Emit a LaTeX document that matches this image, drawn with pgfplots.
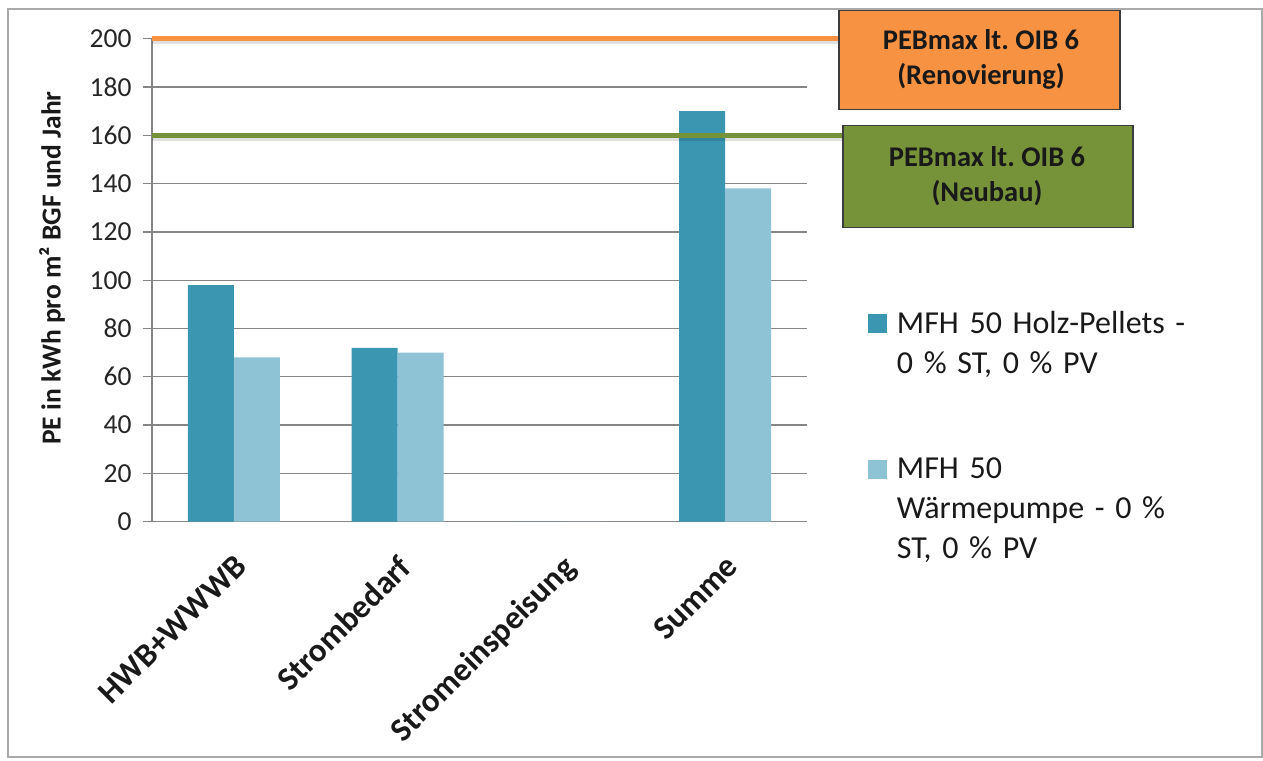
\documentclass[border=0pt]{standalone}
\usepackage{fontspec}
\setmainfont{Carlito}
\usepackage{pgfplots}
\pgfplotsset{compat=1.18}
\frenchspacing

\definecolor{pellets}{RGB}{59,150,178}
\definecolor{wp}{RGB}{142,195,214}
\definecolor{gridc}{RGB}{134,134,134}
\definecolor{renov}{RGB}{247,146,66}
\definecolor{neubau}{RGB}{119,147,58}
\definecolor{framec}{RGB}{170,170,170}
\definecolor{boxline}{RGB}{60,60,60}

\begin{document}
\begin{tikzpicture}[x=1pt,y=1pt]
\useasboundingbox (0,0) rectangle (1263,760);
\draw[framec, line width=1.2pt] (8,3) rectangle (1262,751);

\begin{axis}[
  at={(152pt,238.3pt)}, anchor=south west,
  scale only axis, width=655pt, height=483pt,
  clip=false,
  xmin=-0.5, xmax=3.5, ymin=0, ymax=200,
  axis x line*=bottom, axis y line*=left,
  axis line style={gridc, line width=1.3pt},
  xtick={0,1,2,3},
  xticklabels={HWB+WWWB,Strombedarf,Stromeinspeisung,Summe},
  xtick style={draw=none},
  ytick={0,20,...,200},
  ymajorgrids,
  grid style={gridc, line width=1.3pt},
  ytick style={gridc, line width=1.3pt},
  tick align=outside, major tick length=9pt,
  /pgf/number format/assume math mode=true,
  yticklabel style={font=\fontsize{27.5}{32}\selectfont, text=black!85, xshift=-8pt},
  xticklabel style={font=\bfseries\fontsize{33}{40}\selectfont, rotate=45, anchor=north east,
    text=black!90, xshift=-13pt, yshift=-12pt},
  ylabel={PE in kWh pro m² BGF und Jahr},
  ylabel style={font=\bfseries\fontsize{27.5}{32}\selectfont, at={(axis description cs:-0.1527,0.525)}, anchor=center, text=black!90},
  legend style={at={(axis description cs:1.093,0.436)}, anchor=north west,
    draw=none, fill=none, inner sep=0pt, outer sep=0pt,
    row sep=123pt, column sep=10pt,
    nodes={inner sep=0pt, text width=320pt, align=left,
      font=\fontsize{32}{40}\selectfont, text=black!90},
    cells={anchor=base west}},
  legend image code/.code={\fill[#1] (0pt,0pt) rectangle (19pt,19pt);},
]
% bars: primary energy per category
\addplot[ybar, bar width=46pt, bar shift=-23pt, fill=pellets, draw=none]
  coordinates {(0,98) (1,72) (2,0) (3,170)};
\addlegendentry{MFH 50 Holz-Pellets -\\0 \% ST, 0 \% PV}
\addplot[ybar, bar width=46pt, bar shift=23pt, fill=wp, draw=none]
  coordinates {(0,68) (1,70) (2,0) (3,138)};
\addlegendentry{MFH 50\\Wärmepumpe - 0 \%\\ST, 0 \% PV}

% limit lines with a soft shadow
\addplot[sharp plot, forget plot, no markers, black, opacity=0.12, line width=4pt]
  coordinates {(-0.5,198.6) (3.689,198.6)};
\addplot[sharp plot, forget plot, no markers, renov, line width=5pt]
  coordinates {(-0.5,200) (3.689,200)};
\addplot[sharp plot, forget plot, no markers, black, opacity=0.12, line width=4pt]
  coordinates {(-0.5,158.6) (3.714,158.6)};
\addplot[sharp plot, forget plot, no markers, neubau, line width=5pt]
  coordinates {(-0.5,160) (3.714,160)};
\end{axis}

% labels of the limit lines
\node[fill=renov, draw=boxline, line width=1.5pt, minimum width=281pt, minimum height=99pt,
      anchor=north west, inner sep=0pt] at (838,750) {};
\node[align=center, font=\bfseries\fontsize{28.5}{35}\selectfont, text=black!90]
  at (981,700.5) {PEBmax lt. OIB 6\\(Renovierung)};
\node[fill=neubau, draw=boxline, line width=1.5pt, minimum width=290pt, minimum height=102pt,
      anchor=north west, inner sep=0pt] at (842,635) {};
\node[align=center, font=\bfseries\fontsize{28.5}{35}\selectfont, text=black!90]
  at (987,584) {PEBmax lt. OIB 6\\(Neubau)};
\end{tikzpicture}
\end{document}
